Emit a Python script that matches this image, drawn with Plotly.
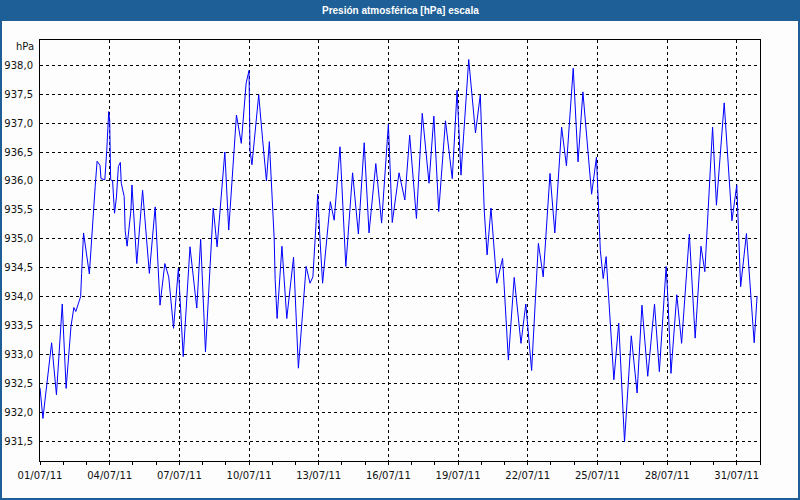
import pandas as pd
import plotly.graph_objects as go

# Hours since 01/07/2011 00:00 and pressure readings [hPa]
hours = [0, 3, 12, 17, 23, 27, 32, 35, 37, 40, 42, 43, 45, 51, 55, 57, 59, 62, 63, 67,
         69, 70, 71, 72, 73, 75, 77, 79, 81, 83, 84, 87, 88, 90, 92, 94, 95, 100, 106, 113,
         119, 124, 129, 133, 138, 143, 148, 155, 162, 166, 171, 179, 183, 187, 191, 195, 203, 208, 213, 216,
         217, 219, 226, 230, 234, 237, 242, 243, 245, 250, 255, 262, 267, 275, 279, 282, 287, 289, 292, 300,
         304, 310, 316, 323, 329, 335, 340, 347, 353, 360, 364, 371, 377, 382, 389, 395, 402, 407, 412, 419,
         426, 431, 435, 443, 450, 455, 459, 462, 466, 472, 478, 484, 490, 497, 502, 508, 515, 520, 527, 532,
         539, 544, 551, 556, 561, 570, 575, 579, 582, 585, 593, 598, 604, 611, 617, 622, 628, 635, 640, 647,
         649, 652, 658, 663, 671, 677, 683, 687, 695, 699, 707, 715, 720, 724, 730, 738, 741]
pressure = [932.42, 931.89, 933.20, 932.30, 933.87, 932.41, 933.48, 933.81, 933.74, 933.88, 934.00, 934.40, 935.10, 934.39, 935.50, 935.90, 936.34, 936.27, 936.04, 936.02,
            936.53, 937.02, 937.20, 937.05, 936.02, 936.00, 935.44, 935.72, 936.25, 936.32, 935.96, 935.73, 935.14, 934.87, 935.15, 935.50, 935.93, 934.57, 935.84, 934.40,
            935.55, 933.85, 934.57, 934.34, 933.45, 934.49, 932.96, 934.86, 933.80, 934.99, 933.04, 935.53, 934.86, 935.61, 936.50, 935.15, 937.14, 936.65, 937.69, 937.91,
            936.53, 936.28, 937.49, 936.72, 936.00, 936.68, 935.00, 934.29, 933.62, 934.87, 933.62, 934.68, 932.76, 934.52, 934.23, 934.34, 935.77, 935.09, 934.23, 935.64,
            935.32, 936.59, 934.52, 936.14, 935.08, 936.66, 935.10, 936.30, 935.27, 936.98, 935.28, 936.14, 935.67, 936.79, 935.35, 937.17, 935.96, 937.12, 935.47, 937.04,
            936.04, 937.57, 936.10, 938.10, 936.83, 937.49, 935.50, 934.72, 935.53, 934.23, 934.66, 932.90, 934.33, 933.19, 933.87, 932.72, 934.92, 934.34, 936.13, 935.10,
            936.93, 936.26, 937.95, 936.33, 937.54, 935.77, 936.41, 934.80, 934.31, 934.69, 932.56, 933.54, 931.49, 933.32, 932.33, 933.85, 932.62, 933.87, 932.70, 934.52,
            933.91, 932.67, 934.03, 933.19, 935.08, 933.28, 934.87, 934.43, 936.93, 935.58, 937.35, 935.31, 935.93, 934.17, 935.09, 933.20, 934.01]

start = pd.Timestamp("2011-07-01 00:00")
times = [start + pd.Timedelta(hours=h) for h in hours]

title_text = "Presión atmosférica [hPa] escala"
unit_text = "hPa"
y_ticks = [931.5 + 0.5 * i for i in range(14)]

BLUE = "#1E5F97"
FONT = "DejaVu Sans"

fig = go.Figure()
fig.add_trace(go.Scatter(x=times, y=pressure, mode="lines",
                         line=dict(color="#0000FF", width=1), hoverinfo="x+y"))

# plot area: x 40..760, y 40..461 px
W, H = 800, 500
L, R, T, B = 40, 40, 40, 39
pw, ph = W - L - R, H - T - B


def px2paper_x(px):
    return (px - L) / pw


def py2paper_y(py):
    return (H - B - py) / ph


shapes = [
    # title bar
    dict(type="rect", xref="paper", yref="paper", x0=px2paper_x(0), x1=px2paper_x(800),
         y0=py2paper_y(21), y1=py2paper_y(0), fillcolor=BLUE, line=dict(width=0), layer="above"),
    # outer border
    dict(type="rect", xref="paper", yref="paper", x0=px2paper_x(1), x1=px2paper_x(799),
         y0=py2paper_y(499), y1=py2paper_y(1), fillcolor="rgba(0,0,0,0)",
         line=dict(color=BLUE, width=2), layer="above"),
]

fig.update_layout(
    width=W, height=H,
    margin=dict(l=L, r=R, t=T, b=B, pad=0, autoexpand=False),
    paper_bgcolor="#FCFDFC", plot_bgcolor="#FCFDFC",
    showlegend=False,
    separators=",.",
    font=dict(family=FONT, size=10, color="#111111"),
    shapes=shapes,
    annotations=[
        dict(text="<b>" + title_text + "</b>", xref="paper", yref="paper",
             x=px2paper_x(400), y=py2paper_y(10.5), xanchor="center", yanchor="middle",
             showarrow=False, font=dict(family="Liberation Sans", size=10, color="white")),
        dict(text=unit_text, xref="paper", yref="paper", x=0, y=1, xshift=-4, yshift=-6,
             xanchor="right", yanchor="middle", showarrow=False,
             font=dict(family=FONT, size=10, color="#111111")),
    ],
)

fig.update_xaxes(
    type="date", automargin=False,
    range=["2011-07-01", "2011-08-01"],
    tick0="2011-07-01", dtick=3 * 86400000, tickformat="%d/%m/%y",
    ticks="outside", ticklen=3, tickcolor="black",
    minor=dict(dtick=86400000, ticks="outside", ticklen=3, tickcolor="black", showgrid=False),
    showgrid=True, gridcolor="black", gridwidth=1, griddash="3px,3px",
    showline=True, linecolor="black", linewidth=1, mirror=True,
    zeroline=False, ticklabelstandoff=2,
)
fig.update_yaxes(
    range=[931.154, 938.438], automargin=False,
    tickmode="array", tickvals=y_ticks, tickformat=".1f",
    ticks="", showgrid=True, gridcolor="black", gridwidth=1, griddash="3px,3px",
    showline=True, linecolor="black", linewidth=1, mirror=True,
    zeroline=False, ticklabelstandoff=4,
)

fig.write_html("out.html")
